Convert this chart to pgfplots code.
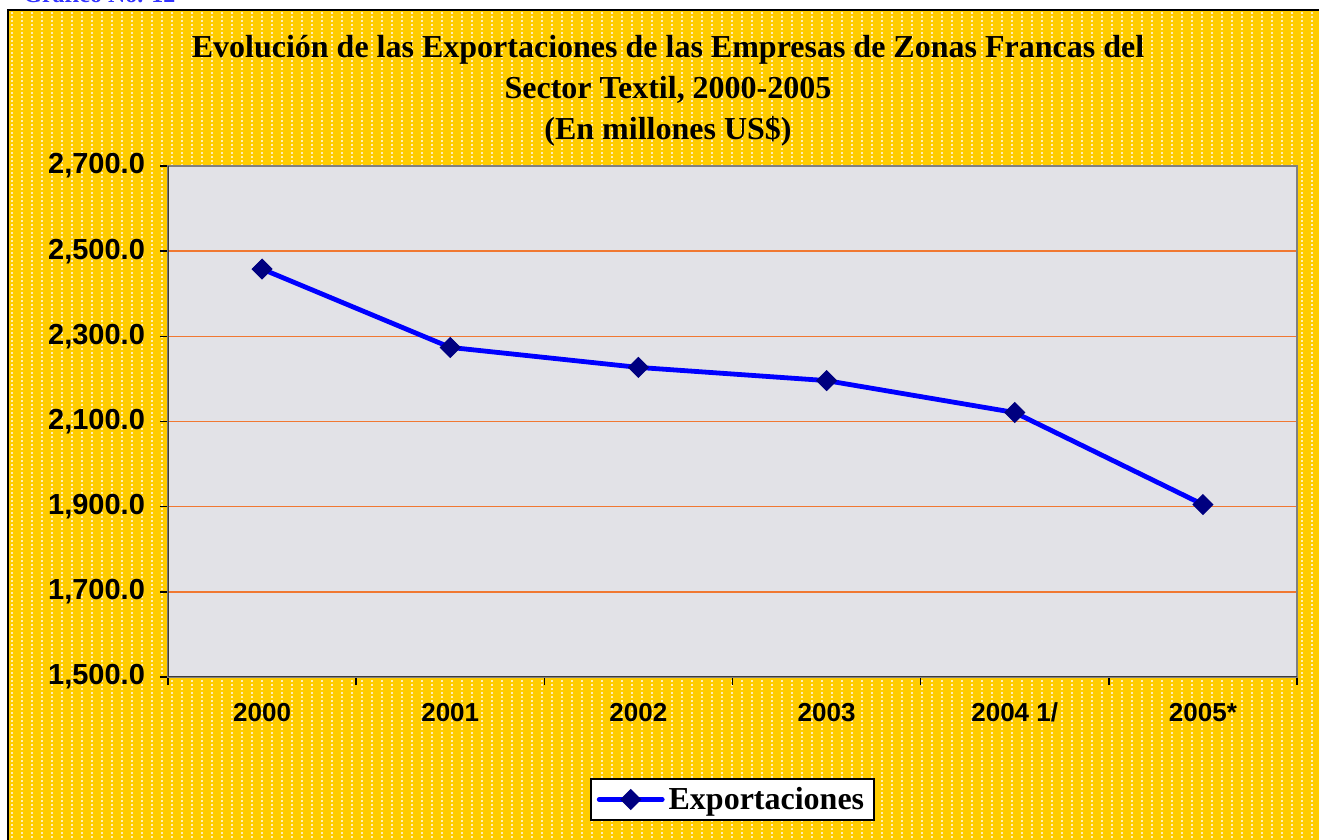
\documentclass[border=0pt]{standalone}
\usepackage{pgfplots}
\pgfplotsset{compat=1.18}
\usepackage{fontspec}
\setmainfont{Liberation Serif}
\newfontfamily\arial{Liberation Sans}
\definecolor{yel}{RGB}{255,204,0}
\definecolor{marble}{RGB}{226,226,231}
\definecolor{gridor}{RGB}{240,120,50}
\definecolor{navym}{RGB}{0,0,128}
\definecolor{titleblue}{RGB}{51,51,255}
\definecolor{darkax}{RGB}{60,60,60}
\begin{document}
\begin{tikzpicture}
\useasboundingbox (0,0) rectangle (659.5pt,420pt);
\clip (0,0) rectangle (659.5pt,420pt);
\fill[white] (0,0) rectangle (659.5pt,420pt);
\fill[yel] (4pt,-5pt) rectangle (665pt,415pt);
\foreach \i in {0,...,131} {
  \draw[white, line width=1.3pt, dash pattern=on 1pt off 1pt, opacity=0.7]
    ({(6+\i*5)*1pt},-5pt) -- ({(6+\i*5)*1pt},415pt);
}
\draw[black, line width=1pt] (4pt,-5pt) -- (4pt,415pt) -- (665pt,415pt);
\node[anchor=base west, text=titleblue, inner sep=0pt, font=\bfseries\fontsize{12}{14}\selectfont] at (11.5pt,418.5pt) {Gráfico No. 12};
\node[anchor=base, inner sep=0pt, font=\bfseries\fontsize{16}{19}\selectfont] at (334pt,391pt) {Evolución de las Exportaciones de las Empresas de Zonas Francas del};
\node[anchor=base, inner sep=0pt, font=\bfseries\fontsize{16}{19}\selectfont] at (334pt,370.5pt) {Sector Textil, 2000-2005};
\node[anchor=base, inner sep=0pt, font=\bfseries\fontsize{16}{19}\selectfont] at (334pt,350pt) {(En millones US\$)};
\begin{axis}[
  at={(84pt,81.5pt)}, anchor=south west,
  scale only axis, width=564.5pt, height=255.5pt,
  xmin=-0.5, xmax=5.5, ymin=1500, ymax=2700,
  xtick={-0.5,0.5,...,5.5}, xticklabels={},
  extra x ticks={0,1,2,3,4,5},
  extra x tick labels={2000,2001,2002,2003,2004 1/,2005*},
  extra x tick style={major tick length=0pt},
  ytick={1500,1700,...,2700},
  xtick pos=bottom, ytick pos=left,
  tick align=outside, major tick length=4pt,
  tick style={black, line width=0.75pt},
  ymajorgrids, grid style={gridor, line width=0.75pt},
  axis background/.style={fill=marble},
  axis line style={draw=gray, line width=1.25pt},
  /pgf/number format/.cd, fixed, fixed zerofill, precision=1, 1000 sep={,}, assume math mode=true,
  /pgfplots/.cd,
  yticklabel style={font=\arial\bfseries\fontsize{14.5}{17}\selectfont, xshift=-4pt},
  xticklabel style={font=\arial\bfseries\fontsize{13}{15}\selectfont, yshift=-9.5pt},
  legend style={at={(0.5,-0.2397)}, anchor=center, draw=black, line width=0.75pt, fill=white,
    font=\bfseries\fontsize{16}{19}\selectfont, inner xsep=3pt, inner ysep=2pt},
  legend image code/.code={\draw[#1, mark repeat=2, mark phase=2] plot coordinates {(0pt,0pt) (15.75pt,0pt) (31.5pt,0pt)};},
]
\addplot[color=blue, line width=2.4pt, line cap=round, mark=square*, mark size=3.5pt,
  mark options={draw=navym, fill=navym, line width=0.5pt, rotate=45}]
  coordinates {(0,2458) (1,2274) (2,2227) (3,2196) (4,2121) (5,1905)};
\addlegendentry{Exportaciones}
\draw[darkax, line width=1pt] (rel axis cs:0,1) -- (rel axis cs:0,0) -- (rel axis cs:1,0);
\end{axis}
\end{tikzpicture}
\end{document}
